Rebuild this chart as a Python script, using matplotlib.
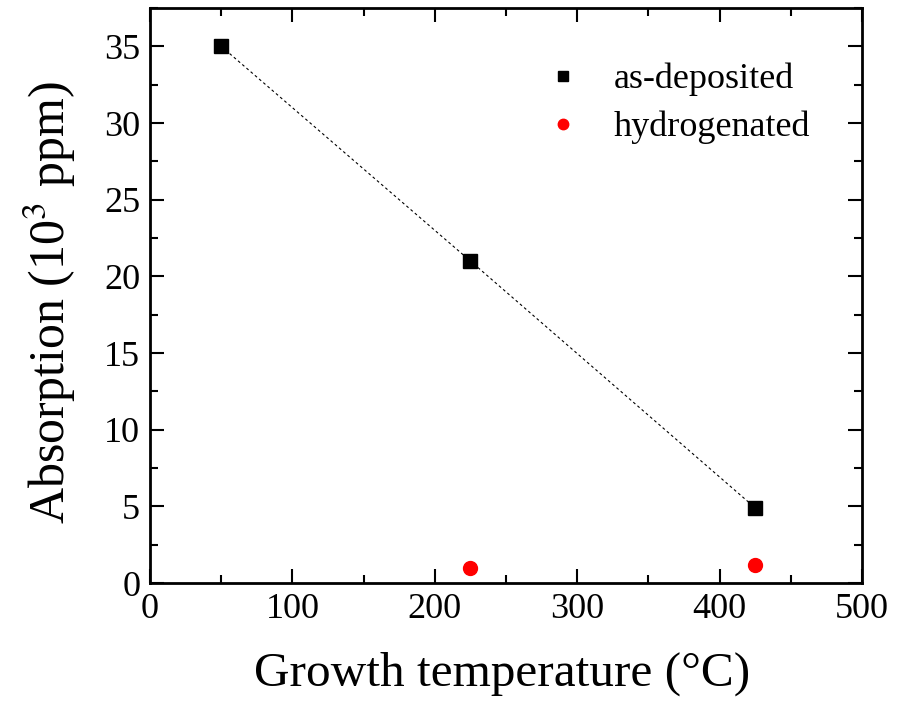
import matplotlib
matplotlib.use('Agg')
import matplotlib.pyplot as plt
from matplotlib.ticker import MultipleLocator

plt.rcParams['font.family'] = ['Liberation Serif', 'DejaVu Serif']
plt.rcParams['mathtext.fontset'] = 'stix'

temp_dep = [50, 225, 425]
abs_dep = [35, 21, 4.9]
temp_hyd = [225, 425]
abs_hyd = [1.0, 1.2]

fig = plt.figure(figsize=(9.07, 7.05), dpi=100)
ax = fig.add_axes([150/907, 1 - 583/705, (862-150)/907, (583-8)/705])

ax.plot(temp_dep, abs_dep, color='black', lw=0.8, linestyle=(0, (2.5, 2.5)))
ax.plot(temp_dep, abs_dep, 's', color='black', ms=9.5, ls='none', label='as-deposited')
ax.plot(temp_hyd, abs_hyd, 'o', color='red', ms=10, ls='none', label='hydrogenated')

ax.set_xlim(0, 500)
ax.set_ylim(0, 37.5)
ax.xaxis.set_major_locator(MultipleLocator(100))
ax.xaxis.set_minor_locator(MultipleLocator(50))
ax.yaxis.set_major_locator(MultipleLocator(5))
ax.yaxis.set_minor_locator(MultipleLocator(2.5))
ax.tick_params(which='both', direction='in', top=True, right=True, width=1.5, labelsize=26)
ax.tick_params(which='major', length=10, pad=7)
ax.tick_params(which='minor', length=6)
for s in ax.spines.values():
    s.set_linewidth(2)

ax.set_xlabel('Growth temperature (°C)', fontsize=35.5)
ax.set_ylabel('Absorption (10$^3$ ppm)', fontsize=36)
ax.xaxis.set_label_coords(0.494, -0.12)
ax.yaxis.set_label_coords(-0.101, 0.487)

ax.legend(loc='upper left', frameon=False, fontsize=26, markerscale=0.75,
          handlelength=1.0, handletextpad=0.9, labelspacing=0.4,
          borderaxespad=0, bbox_to_anchor=(0.535, 0.93))

fig.savefig('out.png', dpi=100)
